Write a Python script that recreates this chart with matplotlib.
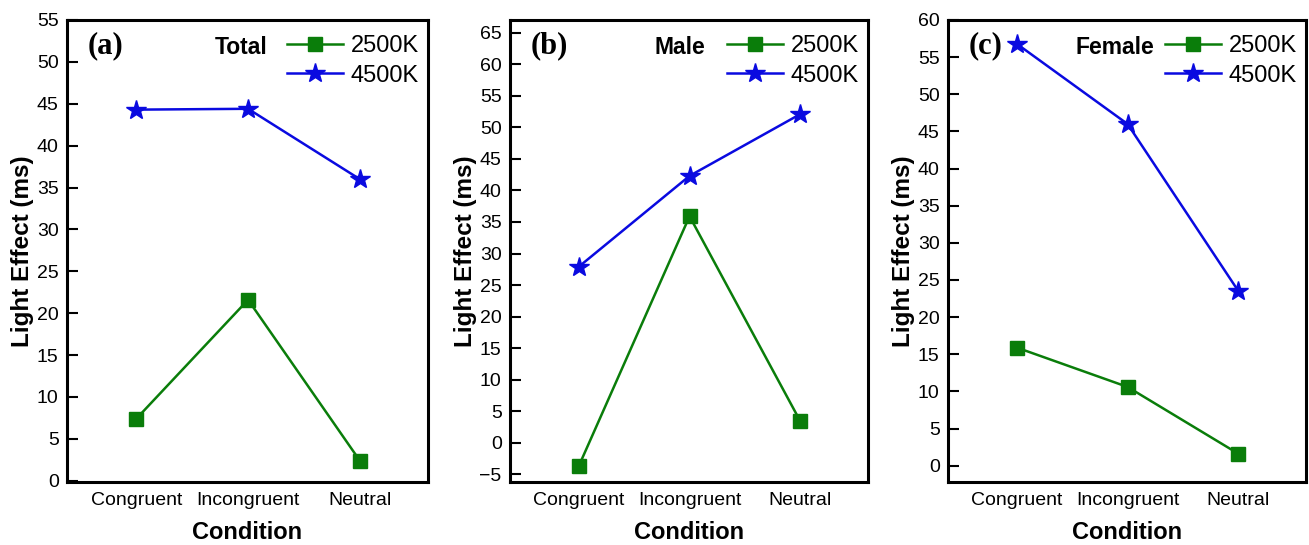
import matplotlib
matplotlib.use("Agg")
import matplotlib.pyplot as plt
import numpy as np

conditions = ["Congruent", "Incongruent", "Neutral"]
series_names = ["2500K", "4500K"]

total_2500 = [7.4, 21.6, 2.4]
total_4500 = [44.3, 44.4, 36.0]
male_2500 = [-3.7, 35.9, 3.4]
male_4500 = [27.9, 42.3, 52.1]
female_2500 = [15.9, 10.6, 1.6]
female_4500 = [56.8, 46.0, 23.5]

panel_letters = ["(a)", "(b)", "(c)"]
panel_titles = ["Total", "Male", "Female"]
y_ticks_a = list(range(0, 56, 5))
y_ticks_b = list(range(-5, 66, 5))
y_ticks_c = list(range(0, 61, 5))

plt.rcParams['font.family'] = ['Liberation Sans', 'DejaVu Sans']

fig = plt.figure(figsize=(13.09, 5.45), dpi=100)

W, H = 1309, 545
frames = [(67, 428), (510, 868), (948, 1306)]
top_px, bot_px = 20, 482

data = [(total_2500, total_4500, y_ticks_a, (-0.15, 55.0)),
        (male_2500, male_4500, y_ticks_b, (-6.2, 67.0)),
        (female_2500, female_4500, y_ticks_c, (-2.2, 60.0))]

green = '#0a7d0a'
blue = '#0a0ae0'
x = np.arange(len(conditions))

title_pos = [0.483, 0.475, 0.465]

for i, ((l, r), (s1, s2, yt, yl)) in enumerate(zip(frames, data)):
    ax = fig.add_axes([l / W, 1 - bot_px / H, (r - l) / W, (bot_px - top_px) / H])
    ax.plot(x, s1, color=green, marker='s', markersize=10, linewidth=1.8, label=series_names[0])
    ax.plot(x, s2, color=blue, marker='*', markersize=15, linewidth=1.8, label=series_names[1])
    ax.set_xlim(-0.62, 2.61)
    ax.set_ylim(*yl)
    ax.set_yticks(yt)
    ax.set_xticks(x)
    ax.set_xticklabels(conditions)
    ax.tick_params(axis='y', direction='in', length=8, width=1.5, labelsize=14, pad=6)
    ax.tick_params(axis='x', length=0, labelsize=14, pad=7)
    for sp in ax.spines.values():
        sp.set_linewidth(2.2)
    ax.set_xlabel("Condition", fontsize=17, fontweight='bold', labelpad=9)
    ax.set_ylabel("Light Effect (ms)", fontsize=17.5, fontweight='bold', labelpad=2)
    ax.text(0.058, 0.975, panel_letters[i], transform=ax.transAxes, fontsize=22,
            fontweight='bold', family='Liberation Serif', va='top', ha='left')
    leg = ax.legend(loc='upper right', frameon=False, fontsize=17, handlelength=2.4,
                    borderaxespad=0.0, labelspacing=0.32, handletextpad=0.3,
                    bbox_to_anchor=(1.0, 0.988))
    ax.text(title_pos[i], 0.965, panel_titles[i], transform=ax.transAxes, fontsize=16.5,
            fontweight='bold', va='top', ha='center')

fig.savefig("out.png", dpi=100)
